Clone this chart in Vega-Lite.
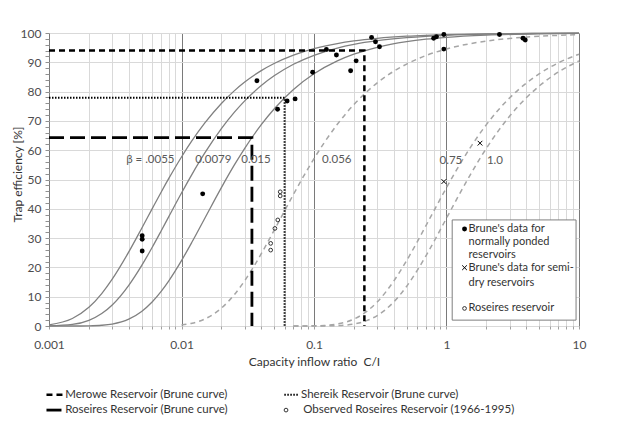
{
  "$schema": "https://vega.github.io/schema/vega-lite/v6.json",
  "width": 530,
  "height": 293,
  "autosize": {"type": "none"},
  "padding": {"left": 49, "top": 33, "right": 51, "bottom": 95},
  "background": "white",
  "config": {
    "font": "Lato",
    "view": {"stroke": "#808080", "strokeWidth": 1}
  },
  "datasets": {
    "solid": [
      {"b":"0.0055","x":0.001,"y":0.41},{"b":"0.0055","x":0.0015,"y":2.56},{"b":"0.0055","x":0.002,"y":6.39},{"b":"0.0055","x":0.0025,"y":11.08},{"b":"0.0055","x":0.003,"y":15.99},{"b":"0.0055","x":0.004,"y":25.28},{"b":"0.0055","x":0.005,"y":33.29},{"b":"0.0055","x":0.006,"y":39.98},{"b":"0.0055","x":0.007,"y":45.58},{"b":"0.0055","x":0.008,"y":50.28},{"b":"0.0055","x":0.01,"y":57.69},{"b":"0.0055","x":0.012,"y":63.23},{"b":"0.0055","x":0.015,"y":69.30},{"b":"0.0055","x":0.02,"y":75.96},{"b":"0.0055","x":0.025,"y":80.25},{"b":"0.0055","x":0.03,"y":83.25},{"b":"0.0055","x":0.04,"y":87.15},{"b":"0.0055","x":0.05,"y":89.58},{"b":"0.0055","x":0.07,"y":92.44},{"b":"0.0055","x":0.1,"y":94.65},{"b":"0.0055","x":0.15,"y":96.40},{"b":"0.0055","x":0.2,"y":97.29},{"b":"0.0055","x":0.3,"y":98.18},{"b":"0.0055","x":0.5,"y":98.91},{"b":"0.0055","x":0.7,"y":99.22},{"b":"0.0055","x":1,"y":99.45},{"b":"0.0055","x":2,"y":99.73},{"b":"0.0055","x":5,"y":99.89},{"b":"0.0055","x":10,"y":99.95},
      {"b":"0.0079","x":0.001,"y":0.04},{"b":"0.0079","x":0.0015,"y":0.52},{"b":"0.0079","x":0.002,"y":1.93},{"b":"0.0079","x":0.0025,"y":4.24},{"b":"0.0079","x":0.003,"y":7.18},{"b":"0.0079","x":0.004,"y":13.88},{"b":"0.0079","x":0.005,"y":20.60},{"b":"0.0079","x":0.006,"y":26.80},{"b":"0.0079","x":0.007,"y":32.35},{"b":"0.0079","x":0.008,"y":37.25},{"b":"0.0079","x":0.01,"y":45.38},{"b":"0.0079","x":0.012,"y":51.77},{"b":"0.0079","x":0.015,"y":59.06},{"b":"0.0079","x":0.02,"y":67.37},{"b":"0.0079","x":0.025,"y":72.91},{"b":"0.0079","x":0.03,"y":76.85},{"b":"0.0079","x":0.04,"y":82.08},{"b":"0.0079","x":0.05,"y":85.39},{"b":"0.0079","x":0.07,"y":89.33},{"b":"0.0079","x":0.1,"y":92.40},{"b":"0.0079","x":0.15,"y":94.87},{"b":"0.0079","x":0.2,"y":96.13},{"b":"0.0079","x":0.3,"y":97.40},{"b":"0.0079","x":0.5,"y":98.43},{"b":"0.0079","x":0.7,"y":98.88},{"b":"0.0079","x":1,"y":99.21},{"b":"0.0079","x":2,"y":99.61},{"b":"0.0079","x":5,"y":99.84},{"b":"0.0079","x":10,"y":99.92},
      {"b":"0.015","x":0.001,"y":0},{"b":"0.015","x":0.0015,"y":0},{"b":"0.015","x":0.002,"y":0.06},{"b":"0.015","x":0.0025,"y":0.25},{"b":"0.015","x":0.003,"y":0.67},{"b":"0.015","x":0.004,"y":2.35},{"b":"0.015","x":0.005,"y":4.98},{"b":"0.015","x":0.006,"y":8.21},{"b":"0.015","x":0.007,"y":11.73},{"b":"0.015","x":0.008,"y":15.34},{"b":"0.015","x":0.01,"y":22.31},{"b":"0.015","x":0.012,"y":28.65},{"b":"0.015","x":0.015,"y":36.79},{"b":"0.015","x":0.02,"y":47.24},{"b":"0.015","x":0.025,"y":54.88},{"b":"0.015","x":0.03,"y":60.65},{"b":"0.015","x":0.04,"y":68.73},{"b":"0.015","x":0.05,"y":74.08},{"b":"0.015","x":0.07,"y":80.71},{"b":"0.015","x":0.1,"y":86.07},{"b":"0.015","x":0.15,"y":90.48},{"b":"0.015","x":0.2,"y":92.77},{"b":"0.015","x":0.3,"y":95.12},{"b":"0.015","x":0.5,"y":97.04},{"b":"0.015","x":0.7,"y":97.88},{"b":"0.015","x":1,"y":98.51},{"b":"0.015","x":2,"y":99.25},{"b":"0.015","x":5,"y":99.70},{"b":"0.015","x":10,"y":99.85}
    ],
    "dashed": [
      {"b":"0.056","x":0.01,"y":0.37},{"b":"0.056","x":0.012,"y":0.94},{"b":"0.056","x":0.015,"y":2.39},{"b":"0.056","x":0.02,"y":6.08},{"b":"0.056","x":0.025,"y":10.65},{"b":"0.056","x":0.03,"y":15.46},{"b":"0.056","x":0.04,"y":24.66},{"b":"0.056","x":0.05,"y":32.63},{"b":"0.056","x":0.06,"y":39.32},{"b":"0.056","x":0.07,"y":44.93},{"b":"0.056","x":0.08,"y":49.66},{"b":"0.056","x":0.1,"y":57.12},{"b":"0.056","x":0.12,"y":62.71},{"b":"0.056","x":0.15,"y":68.84},{"b":"0.056","x":0.2,"y":75.58},{"b":"0.056","x":0.25,"y":79.93},{"b":"0.056","x":0.3,"y":82.97},{"b":"0.056","x":0.4,"y":86.94},{"b":"0.056","x":0.5,"y":89.40},{"b":"0.056","x":0.7,"y":92.31},{"b":"0.056","x":1,"y":94.55},{"b":"0.056","x":1.5,"y":96.34},{"b":"0.056","x":2,"y":97.24},{"b":"0.056","x":3,"y":98.15},{"b":"0.056","x":5,"y":98.89},{"b":"0.056","x":7,"y":99.20},{"b":"0.056","x":10,"y":99.44},
      {"b":"0.75","x":0.07,"y":0},{"b":"0.75","x":0.1,"y":0.06},{"b":"0.75","x":0.12,"y":0.19},{"b":"0.75","x":0.15,"y":0.67},{"b":"0.75","x":0.2,"y":2.35},{"b":"0.75","x":0.25,"y":4.98},{"b":"0.75","x":0.3,"y":8.21},{"b":"0.75","x":0.4,"y":15.34},{"b":"0.75","x":0.5,"y":22.31},{"b":"0.75","x":0.6,"y":28.65},{"b":"0.75","x":0.7,"y":34.25},{"b":"0.75","x":0.8,"y":39.16},{"b":"0.75","x":1,"y":47.24},{"b":"0.75","x":1.2,"y":53.53},{"b":"0.75","x":1.5,"y":60.65},{"b":"0.75","x":2,"y":68.73},{"b":"0.75","x":2.5,"y":74.08},{"b":"0.75","x":3,"y":77.88},{"b":"0.75","x":4,"y":82.90},{"b":"0.75","x":5,"y":86.07},{"b":"0.75","x":7,"y":89.84},{"b":"0.75","x":10,"y":92.77},
      {"b":"1.0","x":0.07,"y":0},{"b":"1.0","x":0.1,"y":0},{"b":"1.0","x":0.12,"y":0.02},{"b":"1.0","x":0.15,"y":0.13},{"b":"1.0","x":0.2,"y":0.67},{"b":"1.0","x":0.25,"y":1.83},{"b":"1.0","x":0.3,"y":3.57},{"b":"1.0","x":0.4,"y":8.21},{"b":"1.0","x":0.5,"y":13.53},{"b":"1.0","x":0.6,"y":18.89},{"b":"1.0","x":0.7,"y":23.97},{"b":"1.0","x":0.8,"y":28.65},{"b":"1.0","x":1,"y":36.79},{"b":"1.0","x":1.2,"y":43.46},{"b":"1.0","x":1.5,"y":51.34},{"b":"1.0","x":2,"y":60.65},{"b":"1.0","x":2.5,"y":67.03},{"b":"1.0","x":3,"y":71.65},{"b":"1.0","x":4,"y":77.88},{"b":"1.0","x":5,"y":81.87},{"b":"1.0","x":7,"y":86.69},{"b":"1.0","x":10,"y":90.48}
    ],
    "reservoirs": [
      {"r":"Merowe","k":"main","i":1,"x":0.001,"y":94},{"r":"Merowe","k":"main","i":2,"x":0.24,"y":94},{"r":"Merowe","k":"main","i":3,"x":0.24,"y":0},
      {"r":"Merowe","k":"key","i":1,"x":0.000957,"y":-23.5},{"r":"Merowe","k":"key","i":2,"x":0.00131,"y":-23.5},
      {"r":"Shereik","k":"main","i":1,"x":0.001,"y":77.9},{"r":"Shereik","k":"main","i":2,"x":0.06,"y":77.9},{"r":"Shereik","k":"main","i":3,"x":0.06,"y":0},
      {"r":"Shereik","k":"key","i":1,"x":0.0597,"y":-23.5},{"r":"Shereik","k":"key","i":2,"x":0.0775,"y":-23.5},
      {"r":"Roseires","k":"main","i":1,"x":0.001,"y":64.3},{"r":"Roseires","k":"main","i":2,"x":0.034,"y":64.3},{"r":"Roseires","k":"main","i":3,"x":0.034,"y":0},
      {"r":"Roseires","k":"key","i":1,"x":0.000957,"y":-28.7},{"r":"Roseires","k":"key","i":2,"x":0.00131,"y":-28.7}
    ],
    "ponded": [
      {"x":0.00505,"y":30.8},{"x":0.00505,"y":29.6},{"x":0.00505,"y":25.6},{"x":0.01445,"y":45.1},{"x":0.0371,"y":83.7},{"x":0.0531,"y":74},{"x":0.0627,"y":76.8},{"x":0.072,"y":77.5},{"x":0.0977,"y":86.6},{"x":0.124,"y":94.4},{"x":0.1476,"y":92.5},{"x":0.189,"y":87.1},{"x":0.208,"y":90.5},{"x":0.272,"y":98.5},{"x":0.291,"y":97},{"x":0.312,"y":95.3},{"x":0.8,"y":98.2},{"x":0.84,"y":98.7},{"x":0.955,"y":99.5},{"x":0.955,"y":94.5},{"x":2.51,"y":99.5},{"x":3.78,"y":98.2},{"x":3.93,"y":97.6},
      {"x":1.368,"y":33.1}
    ],
    "semidry": [
      {"x":0.955,"y":49.3},{"x":1.79,"y":62.4},
      {"x":1.368,"y":19.9}
    ],
    "roseires": [
      {"x":0.0556,"y":45.8},{"x":0.0556,"y":44.4},{"x":0.0533,"y":36.2},{"x":0.0507,"y":33.3},{"x":0.0471,"y":28.2},{"x":0.0471,"y":25.9},
      {"x":1.368,"y":6.0},
      {"x":0.0615,"y":-28.7}
    ],
    "box": [{"x":1.104,"x2":9.5,"y":2.0,"y2":36.2}],
    "curveLabels": [
      {"label":"β = .0055","x":0.00582,"y":56.7},
      {"label":"0.0079","x":0.0174,"y":56.7},
      {"label":"0.015","x":0.0365,"y":56.7},
      {"label":"0.056","x":0.1486,"y":56.7},
      {"label":"0.75","x":1.08,"y":56.3},
      {"label":"1.0","x":2.32,"y":56.3}
    ],
    "insetText": [
      {"label":"Brune's data for","x":1.466,"y":33.1},
      {"label":"normally ponded","x":1.466,"y":28.6},
      {"label":"reservoirs","x":1.466,"y":24.2},
      {"label":"Brune's data for semi-","x":1.466,"y":19.9},
      {"label":"dry reservoirs","x":1.466,"y":14.6},
      {"label":"Roseires reservoir","x":1.466,"y":6.0}
    ],
    "bottomText": [
      {"label":"Merowe Reservoir (Brune curve)","x":0.001325,"y":-23.5},
      {"label":"Shereik Reservoir (Brune curve)","x":0.0798,"y":-23.5},
      {"label":"Roseires Reservoir (Brune curve)","x":0.001325,"y":-28.7},
      {"label":"Observed Roseires Reservoir (1966-1995)","x":0.083,"y":-28.7}
    ]
  },
  "encoding": {
    "x": {
      "field": "x", "type": "quantitative",
      "scale": {"type": "log", "domain": [0.001, 10], "nice": false},
      "axis": {
        "title": "Capacity inflow ratio\u00a0 C/I",
        "titleFont": "Lato", "titleFontSize": 12, "titleFontWeight": "normal", "titleColor": "#333333", "titlePadding": 6,
        "values": [0.001,0.002,0.003,0.004,0.005,0.006,0.007,0.008,0.009,0.01,0.02,0.03,0.04,0.05,0.06,0.07,0.08,0.09,0.1,0.2,0.3,0.4,0.5,0.6,0.7,0.8,0.9,1,2,3,4,5,6,7,8,9,10],
        "format": "~g",
        "labelExpr": "(datum.value == 0.001 || datum.value == 0.01 || datum.value == 0.1 || datum.value == 1 || datum.value == 10) ? datum.label : ''",
        "labelOverlap": false, "labelFlush": false,
        "labelFontSize": 12, "labelColor": "#4d4d4d", "labelPadding": 10,
        "domain": false,
        "ticks": true, "tickSize": 3, "tickColor": "#a0a0a0",
        "grid": true,
        "gridColor": {"condition": {"test": "datum.value == 0.001 || datum.value == 0.01 || datum.value == 0.1 || datum.value == 1 || datum.value == 10", "value": "#7a7a7a"}, "value": "#d9d9d9"},
        "gridWidth": 1
      }
    },
    "y": {
      "field": "y", "type": "quantitative",
      "scale": {"domain": [0, 100], "nice": false},
      "axis": {
        "title": "Trap efficiency [%]",
        "titleFont": "Lato", "titleFontSize": 12, "titleFontWeight": "normal", "titleColor": "#333333", "titlePadding": -4,
        "titleY": 141,
        "values": [0,2,4,6,8,10,12,14,16,18,20,22,24,26,28,30,32,34,36,38,40,42,44,46,48,50,52,54,56,58,60,62,64,66,68,70,72,74,76,78,80,82,84,86,88,90,92,94,96,98,100],
        "labelExpr": "datum.value % 10 == 0 ? datum.label : ''",
        "labelOverlap": false, "labelFlush": false,
        "labelFontSize": 12, "labelColor": "#4d4d4d", "labelPadding": 4,
        "domain": false,
        "tickSize": 4, "tickColor": "#909090",
        "grid": true,
        "gridColor": "#d9d9d9",
        "gridOpacity": {"condition": {"test": "datum.value % 10 == 0", "value": 1}, "value": 0}
      }
    }
  },
  "layer": [
    {
      "data": {"name": "solid"},
      "mark": {"type": "line", "color": "#808080", "strokeWidth": 1.3, "interpolate": "monotone"},
      "encoding": {"detail": {"field": "b"}}
    },
    {
      "data": {"name": "dashed"},
      "mark": {"type": "line", "color": "#a6a6a6", "strokeWidth": 1.5, "strokeDash": [5, 4], "interpolate": "monotone"},
      "encoding": {"detail": {"field": "b"}}
    },
    {
      "data": {"name": "box"},
      "mark": {"type": "rect", "fill": "white", "stroke": "#7f7f7f", "strokeWidth": 1},
      "encoding": {"x2": {"field": "x2"}, "y2": {"field": "y2"}}
    },
    {
      "data": {"name": "reservoirs"},
      "transform": [{"filter": "datum.r == 'Merowe'"}],
      "mark": {"type": "line", "color": "black", "strokeWidth": 2.5, "strokeDash": [6, 4]},
      "encoding": {"detail": {"field": "k"}, "order": {"field": "i"}}
    },
    {
      "data": {"name": "reservoirs"},
      "transform": [{"filter": "datum.r == 'Shereik'"}],
      "mark": {"type": "line", "color": "black", "strokeWidth": 2, "strokeDash": [1.5, 1.5]},
      "encoding": {"detail": {"field": "k"}, "order": {"field": "i"}}
    },
    {
      "data": {"name": "reservoirs"},
      "transform": [{"filter": "datum.r == 'Roseires'"}],
      "mark": {"type": "line", "color": "black", "strokeWidth": 2.8, "strokeDash": [15, 6]},
      "encoding": {"detail": {"field": "k"}, "order": {"field": "i"}}
    },
    {
      "data": {"name": "ponded"},
      "mark": {"type": "point", "shape": "circle", "filled": true, "color": "black", "size": 24, "opacity": 1}
    },
    {
      "data": {"name": "semidry"},
      "mark": {"type": "point", "shape": "M-1,-1L1,1M-1,1L1,-1", "filled": false, "stroke": "black", "strokeWidth": 1, "size": 22, "opacity": 1}
    },
    {
      "data": {"name": "roseires"},
      "mark": {"type": "point", "shape": "circle", "filled": false, "stroke": "#333333", "strokeWidth": 1, "size": 14, "opacity": 1}
    },
    {
      "data": {"name": "curveLabels"},
      "mark": {"type": "text", "font": "Lato", "fontSize": 11.5, "color": "#595959", "align": "center", "baseline": "middle"},
      "encoding": {"text": {"field": "label"}}
    },
    {
      "data": {"name": "insetText"},
      "mark": {"type": "text", "font": "Lato", "fontSize": 11, "color": "#333333", "align": "left", "baseline": "middle"},
      "encoding": {"text": {"field": "label"}}
    },
    {
      "data": {"name": "bottomText"},
      "mark": {"type": "text", "font": "Lato", "fontSize": 11.5, "color": "#333333", "align": "left", "baseline": "middle"},
      "encoding": {"text": {"field": "label"}}
    }
  ]
}
